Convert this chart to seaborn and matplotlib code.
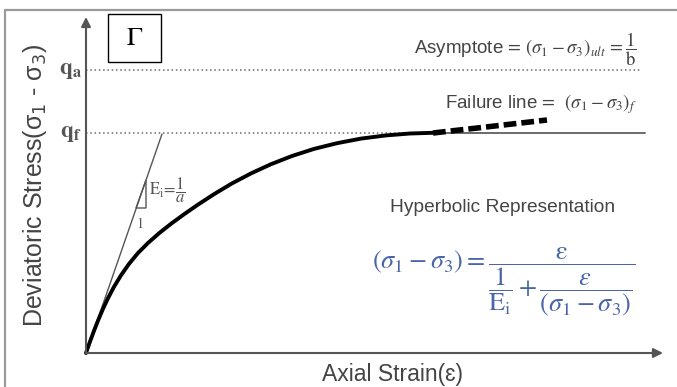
import matplotlib
matplotlib.use("Agg")
import matplotlib.pyplot as plt
import seaborn as sns
import pandas as pd
from matplotlib.patches import Rectangle, Polygon

# ---- data (arbitrary units) ----
strain = [0, 0.04, 0.08, 0.12, 0.17, 0.22, 0.28, 0.35, 0.43, 0.52, 0.62, 0.73, 0.85, 0.98, 1.12,
          1.28, 1.46, 1.65, 1.85, 2.06, 2.28, 2.51, 2.75, 3.00, 3.24, 3.47]
stress = [0, 0.114, 0.222, 0.324, 0.442, 0.548, 0.662, 0.777, 0.891, 1.000, 1.100, 1.197, 1.292, 1.387, 1.484,
          1.588, 1.696, 1.796, 1.888, 1.970, 2.041, 2.098, 2.144, 2.176, 2.195, 2.202]
ext_strain = [3.47, 4.00, 4.61]
ext_stress = [2.20, 2.26, 2.33]
q_a = 2.83
q_f = 2.20
tangent_strain = [0, 0.76]
tangent_stress = [0, 2.19]
tri_x = [0.50, 0.60, 0.60]
tri_y = [1.45, 1.45, 1.73]
x_max = 5.77
y_max = 3.36

sns.set_theme(style="white")
plt.rcParams['font.family'] = ['Liberation Sans', 'DejaVu Sans']
plt.rcParams['mathtext.fontset'] = 'stix'

fig = plt.figure(figsize=(6.77, 3.87), dpi=100)
ax = fig.add_axes([0, 0, 1, 1])

grey = '#555555'
txt = '#444444'
blue = '#4a66a8'

# outer frame (top + left)
ax.plot([-0.81, 5.91], [3.43, 3.43], color='#9a9a9a', lw=1.6, clip_on=False)
ax.plot([-0.81, -0.81], [3.43, -0.34], color='#9a9a9a', lw=1.6, clip_on=False)

# axes arrows
ax.annotate("", xy=(x_max, 0), xytext=(0, 0),
            arrowprops=dict(arrowstyle='-|>', color=grey, lw=1.5, mutation_scale=14, shrinkA=0, shrinkB=0))
ax.annotate("", xy=(0, y_max), xytext=(0, 0),
            arrowprops=dict(arrowstyle='-|>', color=grey, lw=1.5, mutation_scale=14, shrinkA=0, shrinkB=0))

# dotted reference lines
ax.plot([0, 5.54], [q_a, q_a], color='#6a6a6a', lw=1.1, ls=(0, (1, 1.8)))
ax.plot([0, 3.47], [q_f, q_f], color='#6a6a6a', lw=1.1, ls=(0, (1, 1.8)))
ax.plot([3.47, 5.59], [q_f, q_f], color='#6a6a6a', lw=1.4)

# tangent line and slope triangle
ax.plot(tangent_strain, tangent_stress, color=grey, lw=1.0)
ax.add_patch(Polygon(list(zip(tri_x, tri_y)), closed=True, fill=False, edgecolor=grey, lw=1.0))

# hyperbolic curve
df = pd.DataFrame({'strain': strain, 'stress': stress})
sns.lineplot(data=df, x='strain', y='stress', ax=ax, color='black', lw=2.8, sort=False, estimator=None)
ax.lines[-1].set_solid_joinstyle('round')
ax.lines[-1].set_solid_capstyle('round')
dfe = pd.DataFrame({'strain': ext_strain, 'stress': ext_stress})
sns.lineplot(data=dfe, x='strain', y='stress', ax=ax, color='black', lw=4.0, sort=False, estimator=None,
             dashes=False, linestyle=(0, (2.3, 0.9)))
ax.set_xlim(-0.86, 5.91)
ax.set_ylim(-0.34, 3.53)
ax.axis('off')

# labels
ax.text(-0.51, 1.68, r"Deviatoric Stress(σ$_1$ - σ$_3$)", rotation=90, ha='center', va='center',
        fontsize=18, color=txt, math_fontfamily='dejavusans')
ax.text(3.07, -0.335, "Axial Strain(\u025b)", ha='center', va='bottom', fontsize=16.5, color=txt)

ax.text(-0.04, q_a, r"$\mathbf{q_a}$", ha='right', va='center', fontsize=17, color=grey)
ax.text(-0.04, q_f, r"$\mathbf{q_f}$", ha='right', va='center', fontsize=17, color=grey)

ax.add_patch(Rectangle((0.22, 2.91), 0.53, 0.48, fill=False, edgecolor='black', lw=1.0))
ax.text(0.485, 3.15, r"$\Gamma$", ha='center', va='center', fontsize=19, color='black')

ax.text(0.63, 1.63, r"$\mathrm{E_i}\!=\!\dfrac{1}{a}$", ha='left', va='center', fontsize=12, color=grey)
ax.text(0.54, 1.29, r"$1$", ha='center', va='center', fontsize=10, color=grey)

ax.text(5.51, 3.04, r"Asymptote$\,=\,(\sigma_1-\sigma_3)_{ult}\,=\dfrac{1}{\mathrm{b}}$", ha='right', va='center',
        fontsize=13.5, color=txt)
ax.text(5.51, 2.49, r"Failure line$\,=\;\;(\sigma_1-\sigma_3)_f$", ha='right', va='center',
        fontsize=13.5, color=txt)
ax.text(4.17, 1.45, "Hyperbolic Representation", ha='center', va='center', fontsize=13.8, color=txt)
ax.text(2.86, 0.71,
        r"$(\sigma_1-\sigma_3)=\dfrac{\mathrm{\varepsilon}}{\dfrac{1}{\mathrm{E_i}}+\dfrac{\epsilon}{(\sigma_1-\sigma_3)}}$",
        ha='left', va='center', fontsize=19, color=blue)

fig.savefig("out.png", dpi=100)
